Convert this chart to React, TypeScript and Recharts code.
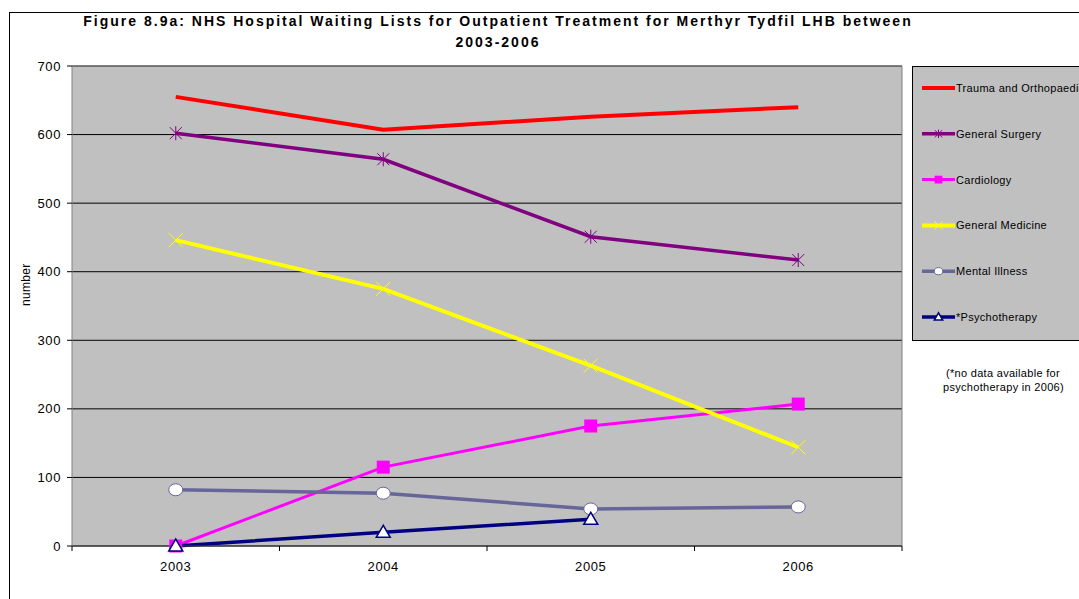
import { LineChart, Line, XAxis, YAxis, CartesianGrid, Legend, ReferenceLine, Label } from 'recharts';

const years = [2003, 2004, 2005, 2006];
const trauma = [655, 607, 626, 640];
const surgery = [602, 564, 451, 417];
const cardiology = [0, 115, 175, 207];
const medicine = [446, 375, 263, 144];
const mental = [82, 77, 54, 57];
const psycho = [0, 20, 39, null];

const yTicks = [0, 100, 200, 300, 400, 500, 600, 700];
// half-year ticks give the boundary tick marks, whole years carry the labels
const xTicks = [2002.5, 2003, 2003.5, 2004, 2004.5, 2005, 2005.5, 2006, 2006.5];

const data = years.map((year, i) => ({
  year,
  trauma: trauma[i],
  surgery: surgery[i],
  cardiology: cardiology[i],
  medicine: medicine[i],
  mental: mental[i],
  psycho: psycho[i],
}));

const FONT = '"Liberation Sans", Arial, sans-serif';

type MarkerProps = { cx: number; cy: number; color: string; s?: number };

const Star = ({ cx, cy, color, s = 1 }: MarkerProps) => (
  <g stroke={color} strokeWidth={1}>
    <line x1={cx - 6 * s} y1={cy - 6 * s} x2={cx + 6 * s} y2={cy + 6 * s} />
    <line x1={cx - 6 * s} y1={cy + 6 * s} x2={cx + 6 * s} y2={cy - 6 * s} />
    <line x1={cx} y1={cy - 7 * s} x2={cx} y2={cy + 7 * s} />
  </g>
);

const Cross = ({ cx, cy, color, s = 1 }: MarkerProps) => (
  <g stroke={color} strokeWidth={1}>
    <line x1={cx - 7 * s} y1={cy - 7 * s} x2={cx + 7 * s} y2={cy + 7 * s} />
    <line x1={cx - 7 * s} y1={cy + 7 * s} x2={cx + 7 * s} y2={cy - 7 * s} />
  </g>
);

const Square = ({ cx, cy, color, s = 1 }: MarkerProps) => (
  <rect x={cx - 6.5 * s} y={cy - 6.5 * s} width={13 * s} height={13 * s} fill={color} />
);

const Circle = ({ cx, cy, color, s = 1 }: MarkerProps) => (
  <ellipse cx={cx} cy={cy} rx={7 * s} ry={6 * s} fill="#fff" stroke={color} strokeWidth={1} />
);

const Triangle = ({ cx, cy, color, s = 1 }: MarkerProps) => (
  <polygon
    points={`${cx},${cy - 7 * s} ${cx - 7 * s},${cy + 5 * s} ${cx + 7 * s},${cy + 5 * s}`}
    fill="#fff"
    stroke={color}
    strokeWidth={1.5}
  />
);

const series = [
  { key: 'trauma', name: 'Trauma and Orthopaedics', color: '#FF0000', width: 4, Marker: null },
  { key: 'surgery', name: 'General Surgery', color: '#800080', width: 3.5, Marker: Star },
  { key: 'cardiology', name: 'Cardiology', color: '#FF00FF', width: 3, Marker: Square },
  { key: 'medicine', name: 'General Medicine', color: '#FFFF00', width: 4, Marker: Cross },
  { key: 'mental', name: 'Mental Illness', color: '#666699', width: 3.5, Marker: Circle },
  { key: 'psycho', name: '*Psychotherapy', color: '#000080', width: 3.5, Marker: Triangle },
];

const makeDot = (s: (typeof series)[number]) => {
  if (!s.Marker) return false;
  const M = s.Marker;
  return (p: any) => {
    if (p.cy == null || p.value == null || (Array.isArray(p.value) && p.value[1] == null)) {
      return <g key={`${s.key}-${p.index}`} />;
    }
    return (
      <g key={`${s.key}-${p.index}`}>
        <M cx={p.cx} cy={p.cy} color={s.color} />
      </g>
    );
  };
};

const XTick = (props: any) => {
  const { x, y, payload } = props;
  if (payload.value % 1 !== 0) {
    return <line x1={x} y1={y} x2={x} y2={y + 5} stroke="#000" />;
  }
  return (
    <text x={x} y={y + 25} textAnchor="middle" fontSize={13} fontFamily={FONT} fill="#000" letterSpacing={0.6}>
      {payload.value}
    </text>
  );
};

const LegendBox = () => (
  <div
    style={{
      width: 200,
      height: 275,
      boxSizing: 'border-box',
      background: '#C0C0C0',
      border: '1px solid #000',
    }}
  >
    <svg width={200} height={273}>
      {series.map((s, i) => {
        const cy = 21 + i * 45.8;
        const M = s.Marker;
        return (
          <g key={s.key}>
            <line x1={9} y1={cy} x2={42} y2={cy} stroke={s.color} strokeWidth={s.width} />
            {M && <M cx={25.5} cy={cy} color={s.color} s={0.6} />}
            <text x={43} y={cy + 4} fontSize={11} fontFamily={FONT} fill="#000" letterSpacing={0.3}>
              {s.name}
            </text>
          </g>
        );
      })}
    </svg>
  </div>
);

export default function App() {
  return (
    <div style={{ position: 'absolute', left: 0, top: 0, width: 1079, height: 599, overflow: 'hidden', background: '#fff' }}>
      <div
        style={{
          position: 'absolute',
          left: 9,
          top: 12,
          width: 1200,
          height: 700,
          border: '1px solid #000',
        }}
      />
      <div
        style={{
          position: 'absolute',
          left: 0,
          top: 11,
          width: 996,
          textAlign: 'center',
          fontFamily: FONT,
          fontWeight: 'bold',
          fontSize: 14,
          lineHeight: '21px',
          letterSpacing: 2,
          whiteSpace: 'nowrap',
        }}
      >
        Figure 8.9a: NHS Hospital Waiting Lists for Outpatient Treatment for Merthyr Tydfil LHB between
        <br />
        2003-2006
      </div>
      <div
        style={{
          position: 'absolute',
          left: 943,
          top: 366,
          width: 120,
          textAlign: 'center',
          fontFamily: FONT,
          fontSize: 11,
          lineHeight: '14px',
          letterSpacing: 0.3,
          whiteSpace: 'nowrap',
        }}
      >
        (*no data available for
        <br />
        psychotherapy in 2006)
      </div>
      <div style={{ position: 'absolute', left: 0, top: 0 }}>
        <LineChart width={1079} height={599} data={data} margin={{ top: 66, right: 177, bottom: 23, left: 0 }}>
          <CartesianGrid vertical={false} stroke="#000" fill="#C0C0C0" horizontalValues={yTicks} />
          <XAxis
            dataKey="year"
            type="number"
            domain={[2002.5, 2006.5]}
            ticks={xTicks}
            interval={0}
            tick={<XTick />}
            tickLine={false}
            tickSize={0}
            tickMargin={0}
            stroke="#404040"
            height={30}
          />
          <YAxis
            domain={[0, 700]}
            ticks={yTicks}
            interval={0}
            width={72}
            stroke="#808080"
            tickSize={5}
            tickMargin={6}
            tick={{ fontSize: 13, fontFamily: FONT, fill: '#000', letterSpacing: 0.6 }}
            tickLine={{ stroke: '#000' }}
          >
            <Label
              value="number"
              angle={-90}
              position="insideLeft"
              offset={26}
              style={{ fontSize: 12, fontFamily: FONT, fill: '#000', letterSpacing: 0.3 }}
            />
          </YAxis>
          <ReferenceLine y={700} stroke="#808080" />
          <ReferenceLine x={2006.5} stroke="#808080" />
          <Legend
            layout="vertical"
            align="center"
            verticalAlign="middle"
            wrapperStyle={{ left: 912, top: 66, width: 200, height: 275 }}
            content={<LegendBox />}
          />
          {series.map((s) => (
            <Line
              key={s.key}
              dataKey={s.key}
              name={s.name}
              type="linear"
              stroke={s.color}
              strokeWidth={s.width}
              dot={makeDot(s)}
              activeDot={false}
              isAnimationActive={false}
            />
          ))}
        </LineChart>
      </div>
    </div>
  );
}
